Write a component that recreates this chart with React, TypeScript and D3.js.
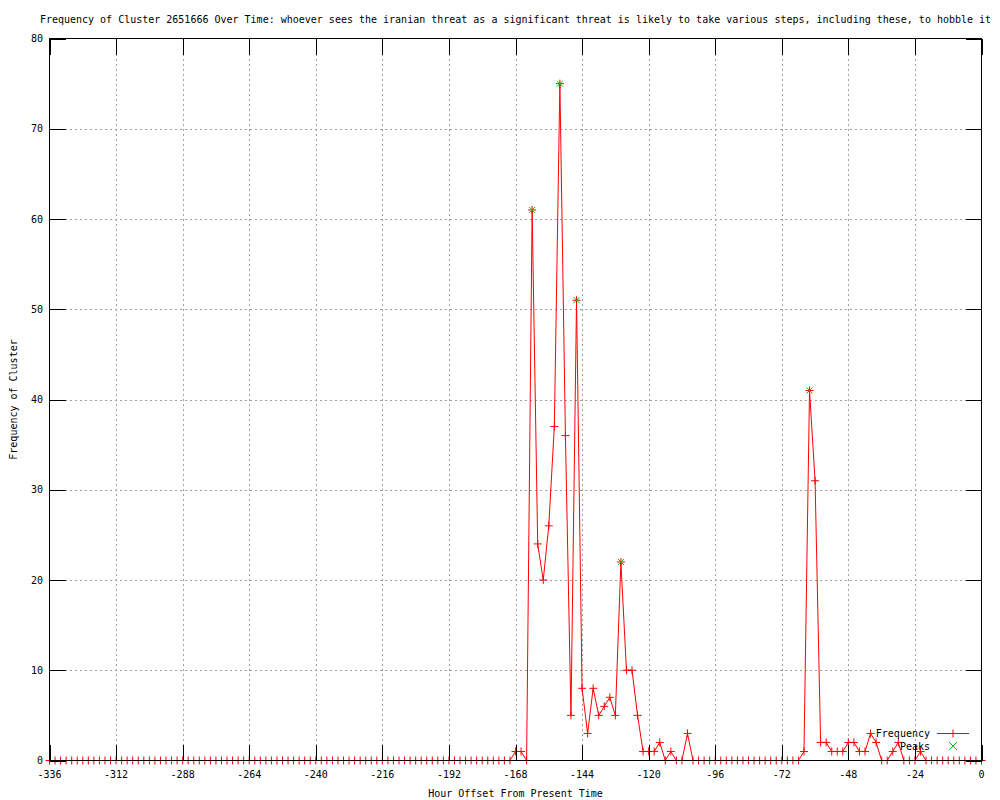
import React from "react";
import * as d3 from "d3";

const hours: number[] = [
  -336, -334, -332, -330, -328, -326, -324, -322, -320, -318, -316, -314, -312, -310, -308, -306, -304, -302, -300, -298,
  -296, -294, -292, -290, -288, -286, -284, -282, -280, -278, -276, -274, -272, -270, -268, -266, -264, -262, -260, -258,
  -256, -254, -252, -250, -248, -246, -244, -242, -240, -238, -236, -234, -232, -230, -228, -226, -224, -222, -220, -218,
  -216, -214, -212, -210, -208, -206, -204, -202, -200, -198, -196, -194, -192, -190, -188, -186, -184, -182, -180, -178,
  -176, -174, -172, -170, -168, -166, -164, -162, -160, -158, -156, -154, -152, -150, -148, -146, -144, -142, -140, -138,
  -136, -134, -132, -130, -128, -126, -124, -122, -120, -118, -116, -114, -112, -110, -108, -106, -104, -102, -100, -98,
  -96, -94, -92, -90, -88, -86, -84, -82, -80, -78, -76, -74, -72, -70, -68, -66, -64, -62, -60, -58,
  -56, -54, -52, -50, -48, -46, -44, -42, -40, -38, -36, -34, -32, -30, -28, -26, -24, -22, -20, -18,
  -16, -14, -12, -10, -8, -6, -4, -2, 0,
];

const frequency: number[] = [
  0, 0, 0, 0, 0, 0, 0, 0, 0, 0, 0, 0, 0, 0, 0, 0, 0, 0, 0, 0,
  0, 0, 0, 0, 0, 0, 0, 0, 0, 0, 0, 0, 0, 0, 0, 0, 0, 0, 0, 0,
  0, 0, 0, 0, 0, 0, 0, 0, 0, 0, 0, 0, 0, 0, 0, 0, 0, 0, 0, 0,
  0, 0, 0, 0, 0, 0, 0, 0, 0, 0, 0, 0, 0, 0, 0, 0, 0, 0, 0, 0,
  0, 0, 0, 0, 1, 1, 0, 61, 24, 20, 26, 37, 75, 36, 5, 51, 8, 3, 8, 5,
  6, 7, 5, 22, 10, 10, 5, 1, 1, 1, 2, 0, 1, 0, 0, 3, 0, 0, 0, 0,
  0, 0, 0, 0, 0, 0, 0, 0, 0, 0, 0, 0, 0, 0, 0, 0, 1, 41, 31, 2,
  2, 1, 1, 1, 2, 2, 1, 1, 3, 2, 0, 0, 1, 2, 0, 0, 0, 1, 0, 0,
  0, 0, 0, 0, 0, 0, 0, 0, 0,
];

const peakHours: number[] = [-162, -152, -146, -130, -62];
const peakValues: number[] = [61, 75, 51, 22, 41];

const xTicks: number[] = [-336, -312, -288, -264, -240, -216, -192, -168, -144, -120, -96, -72, -48, -24, 0];
const yTicks: number[] = [0, 10, 20, 30, 40, 50, 60, 70, 80];

const title =
  "Frequency of Cluster 2651666 Over Time: whoever sees the iranian threat as a significant threat is likely to take various steps, including these, to hobble it";
const xLabel = "Hour Offset From Present Time";
const yLabel = "Frequency of Cluster";

const W = 1000;
const H = 800;
const L = 49.5;
const R = 981.5;
const T = 38.5;
const B = 760.5;
const TICK = 16;
const FONT = "'DejaVu Sans Mono', monospace";
const RED = "#ff0000";
const GREEN = "#00c000";
const GRID = "#a0a0a0";

export default function App() {
  const x = d3.scaleLinear().domain([-336, 0]).range([L, R]);
  const y = d3.scaleLinear().domain([0, 80]).range([B, T]);
  const pts: [number, number][] = hours.map((h, i) => [h, frequency[i]]);
  const line = d3
    .line<[number, number]>()
    .x((d) => x(d[0]))
    .y((d) => y(d[1]));

  const plus = (cx: number, cy: number, s: number, key: string, color: string) => (
    <path key={key} d={`M${cx - s},${cy}H${cx + s}M${cx},${cy - s}V${cy + s}`} stroke={color} strokeWidth={1} fill="none" />
  );
  const cross = (cx: number, cy: number, s: number, key: string, color: string) => (
    <path
      key={key}
      d={`M${cx - s},${cy - s}L${cx + s},${cy + s}M${cx - s},${cy + s}L${cx + s},${cy - s}`}
      stroke={color}
      strokeWidth={1}
      fill="none"
    />
  );

  const legendY1 = 733;
  const legendY2 = 746;

  return (
    <svg
      width={W}
      height={H}
      style={{ position: "absolute", left: 0, top: 0, background: "#fff" }}
      fontFamily={FONT}
      fontSize={10}
    >
      <rect x={0} y={0} width={W} height={H} fill="#fff" />
      {/* grid */}
      <g stroke={GRID} strokeWidth={1} strokeDasharray="2,3" shapeRendering="crispEdges">
        {xTicks
          .filter((t) => t !== -336 && t !== 0)
          .map((t) => (
            <line key={"gx" + t} x1={Math.round(x(t)) + 0.5} x2={Math.round(x(t)) + 0.5} y1={T} y2={B} />
          ))}
        {yTicks
          .filter((t) => t !== 0 && t !== 80)
          .map((t) => (
            <line key={"gy" + t} x1={L} x2={R} y1={Math.round(y(t)) + 0.5} y2={Math.round(y(t)) + 0.5} />
          ))}
      </g>
      {/* data */}
      <path d={line(pts) || ""} fill="none" stroke={RED} strokeWidth={1} />
      {pts.map((d, i) => plus(x(d[0]), y(d[1]), 4, "p" + i, RED))}
      {peakHours.map((h, i) => cross(x(h), y(peakValues[i]), 3, "k" + i, GREEN))}
      {/* border and ticks */}
      <g stroke="#000" strokeWidth={1} shapeRendering="crispEdges" fill="none">
        <rect x={L} y={T} width={R - L} height={B - T} />
        {xTicks.map((t) => {
          const px = Math.round(x(t)) + 0.5;
          return (
            <g key={"tx" + t}>
              <line x1={px} x2={px} y1={B} y2={B - TICK} />
              <line x1={px} x2={px} y1={T} y2={T + TICK} />
            </g>
          );
        })}
        {yTicks.map((t) => {
          const py = Math.round(y(t)) + 0.5;
          return (
            <g key={"ty" + t}>
              <line x1={L} x2={L + TICK} y1={py} y2={py} />
              <line x1={R} x2={R - TICK} y1={py} y2={py} />
            </g>
          );
        })}
      </g>
      {/* tick labels */}
      <g fill="#000">
        {xTicks.map((t) => (
          <text key={"lx" + t} x={x(t)} y={774} textAnchor="middle" dominantBaseline="central">
            {String(t)}
          </text>
        ))}
        {yTicks.map((t) => (
          <text key={"ly" + t} x={43} y={y(t)} textAnchor="end" dominantBaseline="central">
            {String(t)}
          </text>
        ))}
        <text x={(L + R) / 2} y={19} textAnchor="middle" dominantBaseline="central">
          {title}
        </text>
        <text x={(L + R) / 2} y={793} textAnchor="middle" dominantBaseline="central">
          {xLabel}
        </text>
        <text
          x={13}
          y={(T + B) / 2}
          textAnchor="middle"
          dominantBaseline="central"
          transform={`rotate(-90, 13, ${(T + B) / 2})`}
        >
          {yLabel}
        </text>
      </g>
      {/* legend */}
      <g>
        <text x={930} y={legendY1} textAnchor="end" dominantBaseline="central" fill="#000">
          Frequency
        </text>
        <line x1={937} x2={969} y1={legendY1 + 0.5} y2={legendY1 + 0.5} stroke={RED} strokeWidth={1} />
        {plus(953, legendY1 + 0.5, 4, "lp", RED)}
        <text x={930} y={legendY2} textAnchor="end" dominantBaseline="central" fill="#000">
          Peaks
        </text>
        {cross(953, legendY2, 4, "lk", GREEN)}
      </g>
    </svg>
  );
}
